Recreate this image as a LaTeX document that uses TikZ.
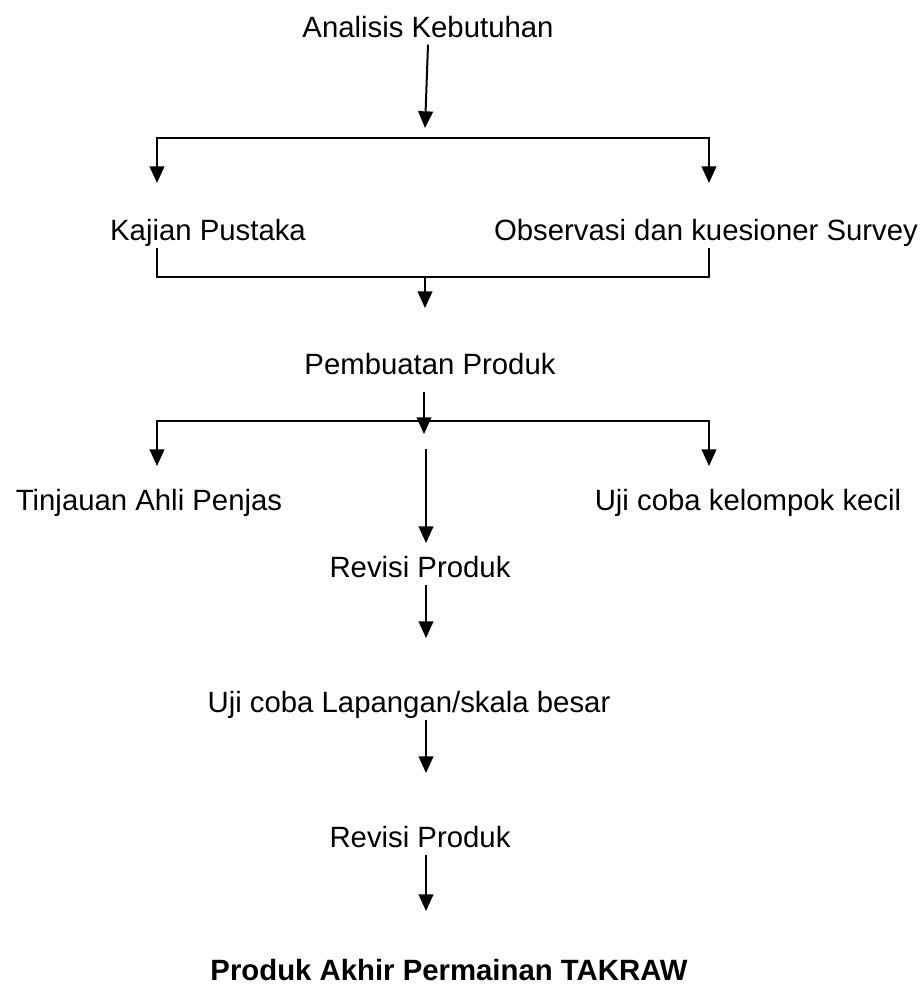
\documentclass[tikz,border=0pt]{standalone}
\usepackage{fontspec}
\setmainfont{Liberation Sans}
\usetikzlibrary{arrows.meta,calc}
\tikzstyle{tahap}=[anchor=base, inner sep=3pt, text height=0.72em, text depth=0.21em,
  font=\fontsize{22pt}{26pt}\selectfont]
\tikzstyle{akhir}=[tahap, font=\fontsize{22pt}{26pt}\selectfont\bfseries]
\tikzstyle{line}=[draw, line width=1.5pt, -{Triangle[length=12.5pt,width=11pt]}]
\tikzstyle{garis}=[draw, line width=1.5pt]
\newcommand{\tahap}[3]{node (#1) [tahap] {#3}}

\begin{document}
\begin{tikzpicture}[x=0.75pt,y=-0.75pt]
  \useasboundingbox (0,0) rectangle (922,985);

  % Draw diagram elements
  \path (428,37.5) \tahap{ana}{}{Analisis Kebutuhan};
  \path (208,240.5) \tahap{kaj}{}{Kajian Pustaka};
  \path (706,240.5) \tahap{obs}{}{Observasi dan kuesioner Survey};
  \path (430,374.5) \tahap{pem}{}{Pembuatan Produk};
  \path (149,510.5) \tahap{tin}{}{Tinjauan Ahli Penjas};
  \path (748,510.5) \tahap{ujk}{}{Uji coba kelompok kecil};
  \path (420,577.5) \tahap{rev1}{}{Revisi Produk};
  \path (409,712.5) \tahap{ujl}{}{Uji coba Lapangan/skala besar};
  \path (420,847.5) \tahap{rev2}{}{Revisi Produk};
  \node (akh) [akhir] at (449,980) {Produk Akhir Permainan TAKRAW};

  % Branch points and arrow ends
  \coordinate (a1) at (425,128);
  \coordinate (s1) at (425,138);
  \coordinate (b1l) at (157,183);
  \coordinate (b1r) at (709,183);
  \coordinate (m1) at (425,277);
  \coordinate (a2) at (425,308);
  \coordinate (a3) at (424,434);
  \coordinate (s2) at (424,421);
  \coordinate (b2l) at (157,466);
  \coordinate (b2r) at (709,466);
  \coordinate (c1) at (426,449);
  \coordinate (a4) at (426,543);
  \coordinate (a5) at (426,638);
  \coordinate (a6) at (426,773);
  \coordinate (a7) at (426,911);

  % Draw arrows between elements
  \path [line] (ana.south) -- (a1);
  \path [line] (s1) -| (b1l);
  \path [line] (s1) -| (b1r);
  \path [garis] (kaj.south -| b1l) |- (m1) -| (obs.south -| b1r);
  \path [line] (m1) -- (a2);
  \path [line] ([yshift=-7.5pt]pem.south -| a3) -- (a3);
  \path [line] (s2) -| (b2l);
  \path [line] (s2) -| (b2r);
  \path [line] (c1) -- (a4);
  \path [line] (rev1.south -| c1) -- (a5);
  \path [line] (ujl.south -| c1) -- (a6);
  \path [line] (rev2.south -| c1) -- (a7);

\end{tikzpicture}
\end{document}
